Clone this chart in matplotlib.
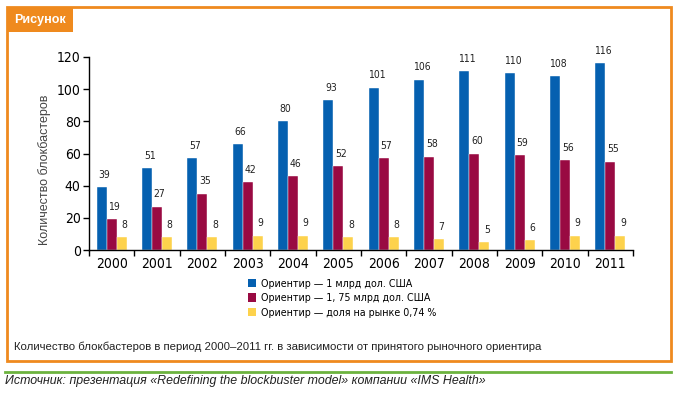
import numpy as np
import matplotlib.pyplot as plt
from matplotlib.patches import Rectangle
from matplotlib.lines import Line2D
from matplotlib import font_manager

years = ['2000', '2001', '2002', '2003', '2004', '2005',
         '2006', '2007', '2008', '2009', '2010', '2011']
bn_1 = [39, 51, 57, 66, 80, 93, 101, 106, 111, 110, 108, 116]
bn_175 = [19, 27, 35, 42, 46, 52, 57, 58, 60, 59, 56, 55]
share_074 = [8, 8, 8, 9, 9, 8, 8, 7, 5, 6, 9, 9]

series_names = ['Ориентир — 1 млрд дол. США',
                'Ориентир — 1, 75 млрд дол. США',
                'Ориентир — доля на рынке 0,74 %']
colors = ['#0560b0', '#990a42', '#fdd24c']

plt.rcParams['font.family'] = ['Liberation Sans', 'DejaVu Sans']

W, H = 678, 393
fig = plt.figure(figsize=(W / 100, H / 100), dpi=100)


def fx(px):
    return px / W


def fy(py):
    return 1 - py / H


# рамка рисунка
orange = '#ef8a1e'
fig.add_artist(Rectangle((fx(7), fy(361)), fx(664), 354 / H, transform=fig.transFigure,
                         fill=False, edgecolor=orange, linewidth=2))
fig.add_artist(Rectangle((fx(7), fy(32)), fx(66), 25 / H, transform=fig.transFigure,
                         facecolor=orange, edgecolor=orange, linewidth=0))
fig.text(fx(40), fy(20), 'Рисунок', color='white', fontsize=9, fontweight='bold',
         ha='center', va='center')

fp_cond = font_manager.FontProperties(family='DejaVu Sans', stretch='condensed')

# основной график
ax = fig.add_axes([fx(89), fy(250), fx(633 - 89), 193 / H])
x = np.arange(len(years))
w = 0.22
offsets = [-w, 0, w]
for vals, off, c in zip([bn_1, bn_175, share_074], offsets, colors):
    ax.bar(x + off, vals, width=w, color=c, edgecolor='white', linewidth=0.3)
    for xi, v in zip(x, vals):
        ax.text(xi + off + 0.06, v + 4.5, str(v), ha='center', va='bottom',
                fontproperties=fp_cond, fontsize=7.5, color='#222222')

ax.set_xlim(-0.5, len(years) - 0.5)
ax.set_ylim(0, 120)
ax.set_yticks(np.arange(0, 121, 20))
ax.set_xticks(np.arange(-0.5, len(years), 1.0))
ax.set_xticklabels([])
ax.set_xticks(x, minor=True)
ax.set_xticklabels(years, minor=True, fontproperties=fp_cond, fontsize=10)
for t in ax.get_yticklabels():
    t.set_fontproperties(fp_cond)
    t.set_fontsize(10)
ax.tick_params(axis='x', which='minor', length=0, pad=5)
ax.tick_params(axis='x', which='major', length=4, direction='out', width=1)
ax.tick_params(axis='y', length=4, direction='out', width=1, pad=2)
for s in ['top', 'right']:
    ax.spines[s].set_visible(False)
ax.spines['left'].set_linewidth(1)
ax.spines['bottom'].set_linewidth(1)
ax.set_ylabel('Количество блокбастеров', fontsize=9, color='#444444')
ax.yaxis.set_label_coords((51 - 89) / 544, (250 - 170) / 193)

leg_fp = font_manager.FontProperties(family='DejaVu Sans', stretch='condensed', size=7.7)
handles = [Rectangle((0, 0), 1, 1, facecolor=c) for c in colors]
fig.legend(handles, series_names, loc='upper left', bbox_to_anchor=(fx(248), fy(279)),
           frameon=False, prop=leg_fp, handlelength=0.75,
           handleheight=0.8, handletextpad=0.5, labelspacing=0.4, borderaxespad=0,
           borderpad=0)

fig.text(fx(14), fy(347), 'Количество блокбастеров в период 2000–2011 гг. в зависимости '
         'от принятого рыночного ориентира', fontsize=8.2, va='center', color='#222222')

fig.add_artist(Line2D([fx(5), fx(671)], [fy(371.5), fy(371.5)], transform=fig.transFigure,
                      color='#6cb33f', linewidth=2))
fig.text(fx(5), fy(381), 'Источник: презентация «Redefining the blockbuster model» '
         'компании «IMS Health»', fontsize=8.9, style='italic', va='center', color='#222222')

fig.savefig('out.png', dpi=100)
